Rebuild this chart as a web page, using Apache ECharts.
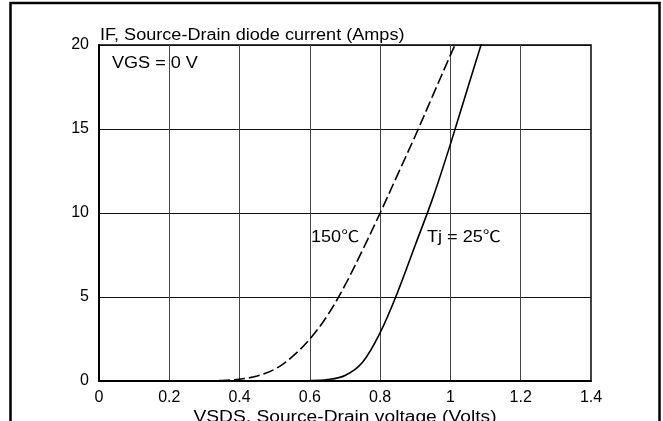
<!DOCTYPE html>
<html>
<head>
<meta charset="utf-8">
<script src="https://cdn.jsdelivr.net/npm/echarts@6/dist/echarts.min.js"></script>
<style>
html,body{margin:0;padding:0;background:#fff;}
#chart{width:663px;height:421px;}
</style>
</head>
<body>
<div id="chart"></div>
<script>
// Data
var vsds150 = [0, 0.1, 0.2, 0.3, 0.35, 0.4, 0.45, 0.5, 0.55, 0.6, 0.65, 0.7, 0.75, 0.8, 0.85, 0.9, 0.95, 1.0, 1.013];
var if150   = [0, 0, 0, 0, 0.03, 0.1, 0.3, 0.7, 1.45, 2.5, 3.9, 5.7, 7.8, 10, 12.3, 14.6, 17.0, 19.4, 20];
var vsds25  = [0, 0.2, 0.4, 0.6, 0.65, 0.7, 0.75, 0.8, 0.85, 0.9, 0.95, 1.0, 1.05, 1.09];
var if25    = [0, 0, 0, 0.02, 0.08, 0.33, 1.12, 2.88, 5.3, 8.1, 10.9, 14.1, 17.5, 20.2];
var xTicks = [0, 0.2, 0.4, 0.6, 0.8, 1.0, 1.2, 1.4];
var xTickLabels = ['0', '0.2', '0.4', '0.6', '0.8', '1', '1.2', '1.4'];
var yTickLabels = ['0', '5', '10', '15', '20'];

function pairs(xs, ys) { return xs.map(function (x, i) { return [x, ys[i]]; }); }

var FONT = "'Liberation Sans', Arial, 'Noto Sans CJK SC', sans-serif";
var chart = echarts.init(document.getElementById('chart'));
chart.setOption({
  animation: false,
  backgroundColor: '#fff',
  grid: { left: 99, right: 72, top: 45, bottom: 40, show: true, borderColor: '#000', borderWidth: 1.5, backgroundColor: 'transparent' },
  xAxis: {
    type: 'value', min: 0, max: 1.4, interval: 0.2,
    axisLine: { show: true, onZero: false, lineStyle: { color: '#000', width: 2 } },
    axisTick: { show: false },
    axisLabel: {
      margin: 9, color: '#000', fontSize: 16, fontFamily: FONT,
      formatter: function (v) { var i = xTicks.findIndex(function (t) { return Math.abs(t - v) < 1e-6; }); return i >= 0 ? xTickLabels[i] : ''; }
    },
    splitLine: { show: true, lineStyle: { color: '#444', width: 1 } }
  },
  yAxis: {
    type: 'value', min: 0, max: 20, interval: 5,
    axisLine: { show: true, lineStyle: { color: '#000', width: 2 } },
    axisTick: { show: false },
    axisLabel: {
      margin: 10, color: '#000', fontSize: 16, fontFamily: FONT,
      formatter: function (v) { return yTickLabels[Math.round(v / 5)]; }
    },
    splitLine: { show: true, lineStyle: { color: '#111', width: 1 } }
  },
  series: [
    {
      name: '150℃', type: 'line', data: pairs(vsds150, if150), showSymbol: false,
      smooth: 0.35,
      lineStyle: { color: '#000', width: 1.6, type: [11, 4] }
    },
    {
      name: 'Tj = 25℃', type: 'line', data: pairs(vsds25, if25), showSymbol: false,
      smooth: 0.35,
      lineStyle: { color: '#000', width: 1.6, type: 'solid' }
    }
  ],
  graphic: [
    { type: 'rect', silent: true, shape: { x: 10.5, y: 3, width: 649, height: 460 }, style: { fill: 'none', stroke: '#000', lineWidth: 2.5 } },
    { type: 'text', x: 100, y: 36, scaleX: 1.13, style: { text: 'IF, Source-Drain diode current (Amps)', font: '16px ' + FONT, fill: '#000', textAlign: 'left', textVerticalAlign: 'middle' } },
    { type: 'text', x: 112, y: 64, scaleX: 1.13, style: { text: 'VGS = 0 V', font: '16px ' + FONT, fill: '#000', textAlign: 'left', textVerticalAlign: 'middle' } },
    { type: 'text', x: 311, y: 238, scaleX: 1.13, style: { text: '150℃', font: '16px ' + FONT, fill: '#000', textAlign: 'left', textVerticalAlign: 'middle' } },
    { type: 'text', x: 427, y: 238, scaleX: 1.13, style: { text: 'Tj = 25℃', font: '16px ' + FONT, fill: '#000', textAlign: 'left', textVerticalAlign: 'middle' } },
    { type: 'text', x: 345, y: 418, scaleX: 1.2, style: { text: 'VSDS, Source-Drain voltage (Volts)', font: '16px ' + FONT, fill: '#000', textAlign: 'center', textVerticalAlign: 'middle' } }
  ]
});
</script>
</body>
</html>
